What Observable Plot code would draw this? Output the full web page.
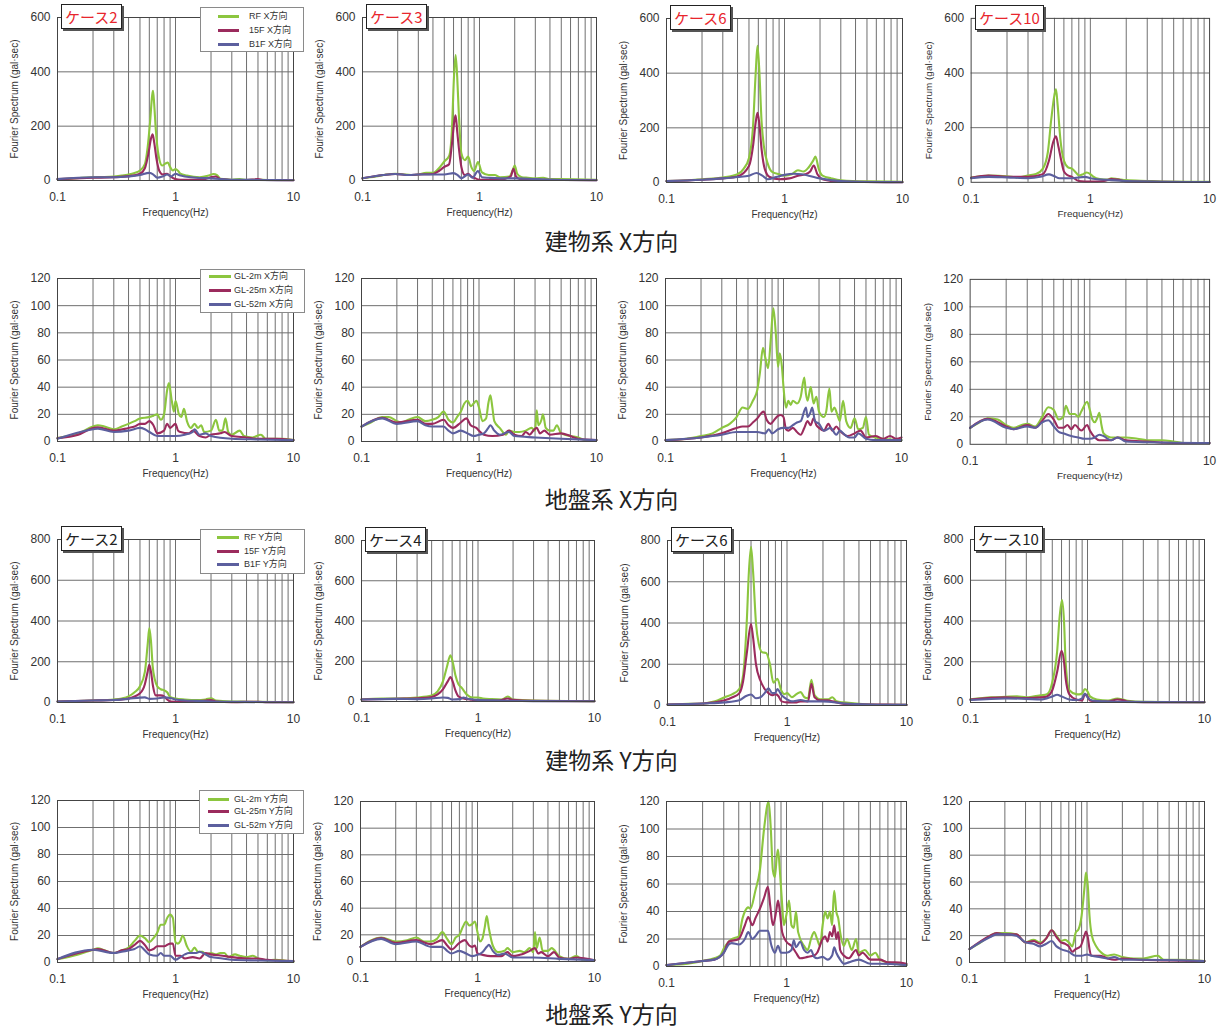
<!DOCTYPE html>
<html><head><meta charset="utf-8">
<script src="https://cdn.jsdelivr.net/npm/d3@7"></script>
<script src="https://cdn.jsdelivr.net/npm/@observablehq/plot@0.6"></script>
<style>
body{margin:0;background:#fff;}
#root{position:relative;width:1223px;height:1032px;overflow:hidden;font-family:"Liberation Sans",Arial,"Noto Sans CJK JP",sans-serif;}
.panel{position:absolute;}
.panel svg{overflow:visible;display:block;}
.case{position:absolute;background:#fff;border:1.5px solid #222;box-shadow:2px 2px 0 #555;font-size:15px;line-height:23px;height:23px;padding:0 3px;font-family:"Noto Sans CJK JP","Liberation Sans",sans-serif;white-space:nowrap;}
.legend{position:absolute;background:#fff;border:1px solid #8a8a8a;font-size:9px;color:#333;font-family:"Liberation Sans","Noto Sans CJK JP",sans-serif;}
.legend .sw{position:absolute;height:2.5px;}
.legend .lt{position:absolute;line-height:11px;white-space:nowrap;}
.title{position:absolute;left:0;width:1223px;text-align:center;font-size:23px;font-family:"Noto Sans CJK JP",sans-serif;color:#222;line-height:24px;height:24px;}
</style>
</head><body><div id="root"></div>
<script>
// ---------- tick / label arrays ----------
const X_TICKS = [0.1, 1, 10];
const MINOR_GRID = [0.2,0.3,0.4,0.5,0.6,0.7,0.8,0.9,1,2,3,4,5,6,7,8,9];
const Y600 = [0,200,400,600];
const Y800 = [0,200,400,600,800];
const Y120 = [0,20,40,60,80,100,120];
const SECTION_TITLES = ["建物系 X方向","地盤系 X方向","建物系 Y方向","地盤系 Y方向"];
const LEG_BX = ["RF X方向","15F X方向","B1F X方向"];
const LEG_GX = ["GL-2m X方向","GL-25m X方向","GL-52m X方向"];
const LEG_BY = ["RF Y方向","15F Y方向","B1F Y方向"];
const LEG_GY = ["GL-2m Y方向","GL-25m Y方向","GL-52m Y方向"];
const CASES_X = ["ケース2","ケース3","ケース6","ケース10"];
const CASES_Y = ["ケース2","ケース4","ケース6","ケース10"];
const COLORS = ["#8cc63f","#9b2b5d","#5c5f9e"];

// ---------- series: [frequency Hz, spectrum gal·sec] ----------
// 建物系 X方向
const BX2_RF=[[0.1,5],[0.13,7],[0.16,10],[0.2,12],[0.25,13],[0.3,15],[0.35,18],[0.4,22],[0.45,28],[0.5,37],[0.55,60],[0.58,120],[0.61,220],[0.635,315],[0.645,330],[0.66,280],[0.68,190],[0.72,90],[0.77,55],[0.82,62],[0.86,66],[0.9,50],[0.95,37],[1.0,42],[1.05,36],[1.1,25],[1.25,18],[1.6,12],[1.9,18],[2.1,24],[2.25,20],[2.4,6],[3,3],[3.5,5],[4,2],[5,3],[6,2],[10,2]];
const BX2_15F=[[0.1,5],[0.2,10],[0.3,12],[0.4,16],[0.5,25],[0.55,45],[0.59,100],[0.62,155],[0.64,170],[0.66,140],[0.69,80],[0.73,35],[0.78,22],[0.85,25],[0.9,16],[1.0,5],[1.1,3],[1.5,3],[1.8,6],[2.0,12],[2.2,15],[2.4,5],[3,2],[4,2],[5,5],[5.5,2],[10,1]];
const BX2_B1F=[[0.1,5],[0.2,12],[0.3,12],[0.4,15],[0.5,20],[0.6,28],[0.65,22],[0.7,10],[0.78,15],[0.85,22],[0.92,15],[1.0,25],[1.1,18],[1.2,15],[1.5,10],[2,8],[3,3],[5,2],[10,1]];
const BX3_RF=[[0.1,8],[0.13,15],[0.16,22],[0.19,25],[0.22,23],[0.26,20],[0.3,22],[0.35,28],[0.4,28],[0.45,45],[0.5,70],[0.55,90],[0.58,180],[0.605,380],[0.625,462],[0.645,380],[0.665,250],[0.7,100],[0.75,75],[0.8,88],[0.85,50],[0.9,35],[0.97,68],[1.05,30],[1.2,20],[1.35,20],[1.5,12],[1.8,15],[1.93,40],[2.0,55],[2.1,25],[2.3,12],[2.6,10],[3,8],[3.5,10],[4,5],[5,5],[10,3]];
const BX3_15F=[[0.1,8],[0.15,20],[0.19,24],[0.25,20],[0.3,22],[0.4,24],[0.45,35],[0.5,50],[0.55,60],[0.58,130],[0.61,220],[0.625,240],[0.645,180],[0.67,110],[0.7,50],[0.75,20],[0.8,25],[0.85,15],[0.9,10],[1.0,3],[1.5,3],[1.85,15],[1.95,43],[2.05,15],[2.2,6],[3,3],[10,1]];
const BX3_B1F=[[0.1,8],[0.15,20],[0.19,24],[0.25,20],[0.3,22],[0.4,22],[0.5,22],[0.6,27],[0.65,20],[0.7,8],[0.8,22],[0.87,10],[0.97,35],[1.05,12],[1.2,10],[1.5,8],[2,8],[3,5],[5,2],[10,1]];
const BX6_RF=[[0.1,5],[0.15,8],[0.2,12],[0.3,18],[0.4,30],[0.45,50],[0.5,90],[0.54,200],[0.57,400],[0.59,500],[0.61,420],[0.64,220],[0.67,130],[0.72,70],[0.78,40],[0.9,30],[1.0,25],[1.15,30],[1.3,45],[1.45,40],[1.6,55],[1.75,80],[1.83,95],[1.95,50],[2.1,25],[2.5,15],[3,8],[5,4],[10,3]];
const BX6_15F=[[0.1,5],[0.2,10],[0.3,15],[0.4,22],[0.5,60],[0.54,130],[0.57,220],[0.59,255],[0.61,220],[0.64,120],[0.68,50],[0.75,20],[0.9,12],[1.1,15],[1.3,25],[1.5,30],[1.65,40],[1.77,62],[1.9,30],[2.1,12],[2.5,6],[3,3],[10,1]];
const BX6_B1F=[[0.1,5],[0.2,10],[0.3,15],[0.4,20],[0.5,25],[0.58,35],[0.65,25],[0.72,12],[0.85,20],[1.0,28],[1.2,32],[1.4,30],[1.6,25],[2.0,15],[3,5],[5,2],[10,1]];
const BX10_RF=[[0.1,17],[0.12,22],[0.14,25],[0.17,24],[0.2,22],[0.25,18],[0.3,25],[0.35,30],[0.4,50],[0.44,110],[0.47,230],[0.5,320],[0.515,340],[0.53,290],[0.56,160],[0.6,80],[0.65,55],[0.7,50],[0.75,38],[0.8,25],[0.87,30],[0.93,36],[1.0,30],[1.05,22],[1.2,12],[1.4,10],[1.5,15],[1.7,12],[2,8],[3,5],[4,3],[10,2]];
const BX10_15F=[[0.1,17],[0.14,25],[0.2,20],[0.3,20],[0.4,30],[0.45,80],[0.49,150],[0.515,168],[0.54,130],[0.57,80],[0.6,40],[0.65,25],[0.7,20],[0.8,5],[1.0,3],[1.3,5],[1.5,12],[1.7,10],[2,3],[10,1]];
const BX10_B1F=[[0.1,15],[0.14,20],[0.2,18],[0.3,15],[0.38,20],[0.45,29],[0.5,22],[0.55,15],[0.7,15],[0.9,20],[1.0,15],[1.5,8],[2,5],[10,1]];
// 地盤系 X方向
const GX2_2=[[0.1,2.5],[0.15,6],[0.2,11],[0.22,12],[0.25,11],[0.3,9],[0.35,11],[0.4,13],[0.45,15],[0.5,17],[0.6,18],[0.65,19],[0.7,20],[0.75,16],[0.8,20],[0.85,38],[0.88,43],[0.93,30],[0.97,22],[1.0,30],[1.07,20],[1.12,18],[1.18,24],[1.25,15],[1.35,10],[1.45,13],[1.55,10],[1.65,12],[1.75,7],[2.0,8],[2.2,16],[2.35,8],[2.5,8],[2.65,17],[2.8,7],[3.0,5],[3.5,8],[3.8,4],[4.5,3],[5.3,5],[5.8,2],[7,2],[8,2],[10,1]];
const GX2_25=[[0.1,2.5],[0.15,5],[0.2,10],[0.22,10.5],[0.3,8],[0.4,10],[0.45,11],[0.5,13],[0.55,13],[0.6,15],[0.65,12],[0.7,6],[0.8,8],[0.85,13],[0.9,10],[1.0,13],[1.05,8],[1.1,7],[1.3,6],[1.4,8],[1.6,4],[1.8,3],[2.0,5],[2.4,6],[2.6,7],[3,4],[4,3],[5,2],[7,2],[10,1]];
const GX2_52=[[0.1,2],[0.2,9],[0.22,9.5],[0.3,7],[0.4,8],[0.5,10],[0.55,9],[0.6,7],[0.7,4],[0.8,4],[1.0,4],[1.2,5],[1.4,7],[1.45,9],[1.6,5],[1.8,6],[2.0,4],[3,2],[5,1.5],[10,1]];
const GX3_2=[[0.1,11],[0.12,14],[0.15,18],[0.17,18],[0.2,15],[0.22,14],[0.25,16],[0.3,18],[0.35,15],[0.4,16],[0.45,18],[0.5,22],[0.55,16],[0.6,14],[0.65,18],[0.7,22],[0.75,28],[0.8,30],[0.85,26],[0.9,28],[0.95,30],[1.0,25],[1.07,15],[1.15,17],[1.2,28],[1.25,34],[1.3,25],[1.35,15],[1.5,10],[1.7,5],[1.8,8],[2.0,7],[2.2,7],[2.5,8],[2.8,10],[3.0,8],[3.1,23],[3.2,12],[3.4,16],[3.5,20],[3.7,10],[4,8],[4.3,8],[4.6,12],[5,6],[6,4],[7,3],[8,1],[10,1]];
const GX3_25=[[0.1,11],[0.15,17.5],[0.2,14],[0.3,16],[0.35,13],[0.4,13],[0.5,16],[0.55,12],[0.6,10],[0.7,14],[0.78,17],[0.85,12],[0.95,10],[1.0,8],[1.1,5],[1.3,4],[1.6,5],[1.8,8],[2.0,5],[2.3,4],[2.5,7],[2.7,5],[2.9,8],[3.1,10],[3.3,6],[3.6,8],[4,5],[5,6],[6,4],[7,2],[10,1]];
const GX3_52=[[0.1,11],[0.15,17],[0.2,13],[0.3,15],[0.35,12],[0.4,11],[0.5,11],[0.55,8],[0.6,6],[0.7,8],[0.8,6],[0.9,4],[1.0,5],[1.1,6],[1.2,10],[1.25,12],[1.35,8],[1.5,5],[1.8,7],[2.0,4],[3,3],[5,2],[10,1]];
const GX6_2=[[0.1,1],[0.15,2],[0.2,4],[0.25,6],[0.3,10],[0.35,13],[0.4,18],[0.45,25],[0.5,24],[0.55,30],[0.6,38],[0.63,50],[0.67,69],[0.7,62],[0.74,54],[0.78,75],[0.82,98],[0.86,80],[0.9,55],[0.93,65],[0.97,55],[1.0,40],[1.05,25],[1.1,30],[1.15,27],[1.2,30],[1.3,28],[1.4,33],[1.5,47],[1.55,35],[1.6,30],[1.7,40],[1.8,28],[1.9,33],[2.0,22],[2.2,18],[2.3,22],[2.45,39],[2.55,22],[2.7,25],[2.9,18],[3.0,15],[3.2,30],[3.4,15],[3.7,10],[4.0,17],[4.3,9],[4.7,10],[5.0,18],[5.3,5],[6,3],[7,2],[10,1]];
const GX6_25=[[0.1,1],[0.2,3],[0.3,6],[0.4,10],[0.45,11],[0.5,11],[0.55,14],[0.6,17],[0.65,21],[0.68,22],[0.72,16],[0.78,13],[0.82,15],[0.9,19],[0.95,19.5],[1.0,18],[1.05,9],[1.1,8],[1.2,10],[1.3,7],[1.4,5],[1.5,10],[1.6,15],[1.7,12],[1.8,17],[1.9,12],[2.0,10],[2.2,8],[2.4,13],[2.6,8],[2.8,11],[3,8],[3.5,4],[4,6],[4.5,8],[5,3],[6,4],[7,2],[8,4],[9,2],[10,3]];
const GX6_52=[[0.1,1],[0.2,3],[0.3,5],[0.4,7],[0.5,7],[0.6,7],[0.7,6],[0.75,9],[0.8,6],[0.9,9],[1.0,10],[1.1,10],[1.2,12],[1.3,14],[1.4,15],[1.55,25],[1.6,18],[1.7,22],[1.75,25],[1.85,15],[2.0,13],[2.2,8],[2.5,10],[2.8,5],[3.0,8],[3.3,5],[3.6,3],[4,3],[4.3,6],[5,2],[6,1],[10,1]];
const GX10_2=[[0.1,12],[0.12,16],[0.14,19],[0.17,18],[0.2,14],[0.23,12],[0.27,14],[0.3,15],[0.35,13],[0.4,20],[0.45,27],[0.5,25],[0.55,18],[0.6,20],[0.63,28],[0.68,22],[0.75,22],[0.8,20],[0.85,24],[0.95,31],[1.0,25],[1.05,18],[1.1,16],[1.15,19],[1.2,23],[1.25,14],[1.3,8],[1.5,5],[1.7,5],[2,5],[2.5,4],[3,3],[4,3],[5,2],[6,1],[10,1]];
const GX10_25=[[0.1,12],[0.14,18.5],[0.2,13],[0.23,11],[0.3,14],[0.35,12],[0.4,17],[0.45,22],[0.5,18],[0.55,12],[0.6,12],[0.65,14],[0.7,11],[0.75,14],[0.85,10],[0.95,14],[1.0,10],[1.1,5],[1.2,3],[1.5,3],[1.7,5],[2,3],[3,2],[5,1],[10,1]];
const GX10_52=[[0.1,12],[0.14,18],[0.2,12],[0.23,11],[0.3,13],[0.35,12],[0.4,16],[0.45,17.5],[0.5,13],[0.55,9],[0.6,8],[0.7,6],[0.8,5],[0.9,4],[1.0,4],[1.1,5],[1.2,7],[1.3,6],[1.5,3],[1.7,5],[2,2],[3,1.5],[10,1]];
// 建物系 Y方向
const BY2_RF=[[0.1,5],[0.2,10],[0.3,15],[0.35,20],[0.4,30],[0.45,50],[0.5,80],[0.55,150],[0.58,280],[0.6,365],[0.62,300],[0.64,180],[0.67,110],[0.7,80],[0.75,65],[0.8,60],[0.85,50],[0.9,28],[1.0,20],[1.2,15],[1.5,12],[1.8,15],[2.0,21],[2.2,10],[3,5],[4,4],[5,3],[10,2]];
const BY2_15F=[[0.1,5],[0.2,10],[0.3,12],[0.4,20],[0.5,45],[0.55,90],[0.58,150],[0.6,185],[0.62,150],[0.645,80],[0.68,35],[0.75,35],[0.8,30],[0.85,15],[0.9,5],[1.2,3],[1.8,10],[2.0,12],[2.2,5],[3,2],[5,4],[6,1],[10,1]];
const BY2_B1F=[[0.1,5],[0.2,10],[0.3,12],[0.4,18],[0.5,24],[0.55,25],[0.6,18],[0.7,20],[0.8,25],[0.9,22],[1.0,15],[1.2,10],[1.5,8],[2,5],[3,3],[10,1]];
const BY4_RF=[[0.1,10],[0.15,15],[0.2,15],[0.3,20],[0.4,30],[0.45,50],[0.5,100],[0.54,170],[0.58,230],[0.61,190],[0.64,130],[0.68,85],[0.72,70],[0.8,35],[0.9,20],[1.0,20],[1.1,15],[1.3,12],[1.6,10],[1.8,25],[2,10],[3,5],[10,2]];
const BY4_15F=[[0.1,10],[0.2,14],[0.3,16],[0.4,22],[0.45,35],[0.5,60],[0.55,100],[0.58,121],[0.61,95],[0.64,55],[0.68,25],[0.75,15],[0.85,10],[1.0,5],[1.5,5],[1.8,15],[2.0,8],[3,3],[10,1]];
const BY4_B1F=[[0.1,10],[0.2,13],[0.3,12],[0.4,15],[0.5,20],[0.55,18],[0.6,10],[0.7,12],[0.75,20],[0.8,15],[1.0,8],[1.5,5],[3,2],[10,1]];
const BY6_RF=[[0.1,5],[0.15,8],[0.2,10],[0.25,20],[0.3,40],[0.35,55],[0.4,81],[0.43,150],[0.46,400],[0.48,650],[0.5,770],[0.52,650],[0.55,400],[0.58,300],[0.62,258],[0.67,255],[0.72,200],[0.77,110],[0.83,130],[0.9,70],[0.95,55],[1.0,60],[1.1,40],[1.2,55],[1.3,65],[1.4,40],[1.5,35],[1.6,125],[1.7,50],[1.9,30],[2.2,30],[2.4,40],[2.6,20],[3.0,15],[4,8],[5,5],[10,3]];
const BY6_15F=[[0.1,5],[0.2,10],[0.3,25],[0.35,40],[0.4,60],[0.43,120],[0.46,250],[0.5,395],[0.52,330],[0.55,200],[0.6,120],[0.65,80],[0.7,60],[0.75,50],[0.8,55],[0.85,45],[0.9,20],[1.0,15],[1.2,15],[1.3,20],[1.5,20],[1.6,105],[1.7,40],[1.9,25],[2.2,25],[2.4,20],[3,8],[5,5],[7,5],[10,3]];
const BY6_B1F=[[0.1,5],[0.2,10],[0.3,15],[0.4,25],[0.45,45],[0.5,53],[0.55,35],[0.6,40],[0.65,60],[0.7,84],[0.75,60],[0.8,60],[0.83,80],[0.9,50],[1.0,30],[1.1,20],[1.3,27],[1.5,20],[2,20],[3,10],[5,5],[10,3]];
const BY10_RF=[[0.1,16],[0.15,25],[0.2,28],[0.25,30],[0.3,25],[0.35,30],[0.4,35],[0.45,40],[0.5,100],[0.55,250],[0.58,430],[0.605,503],[0.63,400],[0.65,200],[0.7,60],[0.8,41],[0.85,40],[0.9,45],[0.95,66],[1.0,55],[1.05,30],[1.2,15],[1.5,10],[1.8,20],[2,15],[2.2,8],[3,3],[10,2]];
const BY10_15F=[[0.1,15],[0.2,25],[0.3,22],[0.4,25],[0.45,30],[0.5,60],[0.55,150],[0.6,254],[0.63,200],[0.65,120],[0.7,40],[0.8,15],[0.9,10],[0.95,40],[1.0,30],[1.05,10],[1.2,5],[1.5,5],[1.8,15],[2.0,12],[2.2,5],[3,2],[10,1]];
const BY10_B1F=[[0.1,12],[0.2,20],[0.3,18],[0.4,15],[0.5,30],[0.55,38],[0.6,30],[0.7,15],[0.8,12],[0.9,20],[0.95,44],[1.0,25],[1.1,10],[1.5,5],[2,3],[10,1]];
// 地盤系 Y方向
const GY2_2=[[0.1,2.5],[0.15,6],[0.2,9.5],[0.22,10.5],[0.25,9],[0.3,7],[0.35,9],[0.4,11],[0.45,16],[0.5,20],[0.55,18],[0.6,15],[0.65,18],[0.7,22],[0.75,28],[0.8,28],[0.85,33],[0.9,35.5],[0.95,33],[1.0,15],[1.05,14],[1.1,16],[1.15,20],[1.25,12],[1.35,8],[1.45,11],[1.55,8],[1.7,8],[1.8,6],[2.0,7],[2.2,6],[2.4,7],[2.6,7],[2.8,4],[3.2,6],[3.5,5],[4,4],[4.5,5],[5,3],[6,1.5],[7,2],[10,0.5]];
const GY2_25=[[0.1,2.5],[0.2,9.5],[0.22,10],[0.3,7],[0.35,9],[0.4,10],[0.45,13],[0.5,16],[0.55,13],[0.6,9],[0.65,10],[0.7,12],[0.8,12],[0.9,14],[0.95,14],[1.0,5],[1.1,5],[1.2,3],[1.4,4],[1.6,3],[1.8,7],[2,6],[2.5,5],[3,4],[4,3],[5,3],[6,2],[10,1]];
const GY2_52=[[0.1,2.5],[0.2,9.5],[0.3,7],[0.35,8],[0.4,9],[0.45,10],[0.5,12],[0.55,9],[0.6,6],[0.7,5],[0.75,7],[0.8,5],[0.9,5],[1.0,2],[1.1,4],[1.2,6],[1.3,7],[1.5,7],[1.6,8],[1.8,6],[2.0,4],[2.5,3],[3,2],[5,1.5],[10,1]];
const GY4_2=[[0.1,11],[0.15,18],[0.2,15],[0.25,16],[0.3,18],[0.35,15],[0.4,15],[0.45,17],[0.5,22],[0.55,17],[0.6,13],[0.65,18],[0.7,20],[0.75,26],[0.8,30],[0.85,27],[0.9,28],[0.95,30],[1.0,22],[1.05,15],[1.1,17],[1.15,25],[1.2,34],[1.25,25],[1.35,12],[1.5,7],[1.7,8],[1.8,10],[2,7],[2.3,8],[2.5,7],[2.8,10],[3.0,7],[3.1,22],[3.2,10],[3.4,18],[3.6,8],[4,8],[4.3,10],[5,4],[6,2],[7,4],[8,1],[10,1]];
const GY4_25=[[0.1,11],[0.15,17.5],[0.2,14],[0.3,16],[0.4,13],[0.5,16],[0.55,12],[0.6,9],[0.7,14],[0.78,16],[0.85,12],[0.9,11],[0.95,12],[1.0,6],[1.1,5],[1.3,4],[1.6,4],[1.8,7],[2,4],[2.3,5],[2.5,6],[2.8,8],[3.1,10],[3.3,6],[3.5,7],[4,4],[4.5,7],[5,3],[6,2],[7,3],[10,1]];
const GY4_52=[[0.1,11],[0.15,17],[0.2,13],[0.3,15],[0.4,11],[0.5,11],[0.55,8],[0.6,6],[0.7,8],[0.8,6],[0.9,4],[1.0,5],[1.1,7],[1.2,11],[1.25,12.5],[1.35,8],[1.5,5],[1.7,6],[2,3],[3,3],[5,2],[10,1]];
const GY6_2=[[0.1,1],[0.15,2],[0.2,4],[0.25,6],[0.28,8],[0.3,13],[0.33,18],[0.35,20],[0.4,22],[0.43,35],[0.45,40],[0.48,43],[0.5,42],[0.55,55],[0.6,70],[0.65,100],[0.71,120],[0.74,100],[0.77,70],[0.8,65],[0.83,80],[0.85,85],[0.88,70],[0.92,45],[0.95,30],[1.0,38],[1.05,48],[1.1,30],[1.15,28],[1.2,40],[1.25,25],[1.4,15],[1.5,12],[1.6,20],[1.7,25],[1.8,20],[1.9,15],[2.0,30],[2.1,40],[2.2,35],[2.3,40],[2.4,30],[2.45,45],[2.5,55],[2.6,40],[2.7,35],[2.8,25],[3.0,15],[3.2,20],[3.5,12],[3.8,20],[4.0,10],[4.5,12],[5,8],[5.5,10],[6,5],[7,3],[8,2],[10,1]];
const GY6_25=[[0.1,1],[0.2,4],[0.25,5],[0.3,10],[0.33,18],[0.4,20],[0.45,30],[0.48,36],[0.52,30],[0.55,35],[0.6,42],[0.65,50],[0.7,58],[0.73,45],[0.77,30],[0.82,40],[0.85,48],[0.88,40],[0.92,25],[1.0,18],[1.1,15],[1.2,10],[1.3,6],[1.5,7],[1.7,8],[1.8,10],[2.0,20],[2.1,22],[2.2,18],[2.3,25],[2.4,22],[2.5,30],[2.6,20],[2.7,25],[2.8,12],[3.0,8],[3.3,6],[3.8,12],[4.0,8],[4.3,10],[5,5],[6,5],[7,3],[8,3],[10,2]];
const GY6_52=[[0.1,1],[0.2,4],[0.25,5],[0.3,10],[0.33,16],[0.35,17],[0.4,16],[0.45,20],[0.48,25],[0.52,20],[0.55,22],[0.6,26],[0.65,26],[0.7,26],[0.75,15],[0.8,10],[0.85,15],[0.9,10],[1.0,10],[1.1,12],[1.15,19],[1.2,14],[1.3,18],[1.4,12],[1.5,10],[1.6,12],[1.7,7],[1.8,6],[2.0,7],[2.2,5],[2.4,8],[2.5,14],[2.6,10],[2.8,5],[3.0,2],[3.3,3],[4,5],[5,2],[6,2],[10,1]];
const GY10_2=[[0.1,10],[0.12,14],[0.15,20],[0.17,22],[0.2,22],[0.25,21],[0.3,15],[0.35,17],[0.4,15],[0.45,18],[0.5,24],[0.55,20],[0.6,16],[0.65,17],[0.7,15],[0.75,12],[0.8,22],[0.85,25],[0.9,35],[0.95,55],[0.98,67],[1.02,55],[1.05,35],[1.1,20],[1.2,12],[1.3,8],[1.5,5],[1.7,6],[2,4],[2.5,3],[3,3],[4,5],[4.5,2],[5,2],[6,2],[10,1]];
const GY10_25=[[0.1,10],[0.15,20],[0.17,22],[0.2,21],[0.25,21],[0.3,15],[0.35,16],[0.4,14],[0.45,18],[0.5,24],[0.55,19],[0.6,15],[0.65,14],[0.7,12],[0.75,8],[0.8,10],[0.88,12],[0.95,20],[0.98,23],[1.02,18],[1.05,10],[1.1,5],[1.3,5],[1.5,3],[1.7,2],[2,3],[3,2],[5,1.5],[10,1]];
const GY10_52=[[0.1,10],[0.15,19],[0.17,21],[0.2,21],[0.25,20],[0.3,15],[0.35,14],[0.4,12],[0.45,14],[0.5,16],[0.55,12],[0.6,10],[0.7,8],[0.8,5],[0.9,5],[1.0,6],[1.1,5],[1.3,4],[1.5,3],[1.7,4],[2,2],[3,2],[10,1]];

// ---------- layout (page pixels of each plot frame) ----------
const ROWS = [
  {ymax:600, yTicks:Y600, legend:LEG_BX, cases:CASES_X, caseColor:"#e8262d", title:SECTION_TITLES[0], titleY:228,
   leg:{l:200,t:7,w:102,h:43,s0:17,s1:38,tx:48,rows:[8,22,36]},
   panels:[{x0:57,x1:293,y0:17,y1:180,s:[BX2_RF,BX2_15F,BX2_B1F]},
           {x0:362,x1:596,y0:17,y1:180,s:[BX3_RF,BX3_15F,BX3_B1F]},
           {x0:666,x1:902,y0:18,y1:182,s:[BX6_RF,BX6_15F,BX6_B1F]},
           {x0:971,x1:1211,y0:18,y1:183,s:[BX10_RF,BX10_15F,BX10_B1F]}]},
  {ymax:120, yTicks:Y120, legend:LEG_GX, cases:null, title:SECTION_TITLES[1], titleY:486,
   leg:{l:200,t:269,w:103,h:42,s0:8,s1:30,tx:33,rows:[6,20,34]},
   panels:[{x0:57,x1:293,y0:278,y1:441,s:[GX2_2,GX2_25,GX2_52]},
           {x0:361,x1:596,y0:278,y1:441,s:[GX3_2,GX3_25,GX3_52]},
           {x0:665,x1:901,y0:278,y1:441,s:[GX6_2,GX6_25,GX6_52]},
           {x0:970,x1:1211,y0:279,y1:445,s:[GX10_2,GX10_25,GX10_52]}]},
  {ymax:800, yTicks:Y800, legend:LEG_BY, cases:CASES_Y, caseColor:"#222", title:SECTION_TITLES[2], titleY:747,
   leg:{l:200,t:529,w:103,h:43,s0:16,s1:38,tx:43,rows:[7,21,34]},
   panels:[{x0:57,x1:293,y0:539,y1:702,s:[BY2_RF,BY2_15F,BY2_B1F]},
           {x0:361,x1:594,y0:540,y1:701,s:[BY4_RF,BY4_15F,BY4_B1F]},
           {x0:667,x1:906,y0:540,y1:705,s:[BY6_RF,BY6_15F,BY6_B1F]},
           {x0:970,x1:1204,y0:539,y1:702,s:[BY10_RF,BY10_15F,BY10_B1F]}]},
  {ymax:120, yTicks:Y120, legend:LEG_GY, cases:null, title:SECTION_TITLES[3], titleY:1001,
   leg:{l:199,t:790,w:103,h:42,s0:8,s1:29,tx:34,rows:[8,20,34]},
   panels:[{x0:57,x1:293,y0:800,y1:962,s:[GY2_2,GY2_25,GY2_52]},
           {x0:360,x1:594,y0:801,y1:961,s:[GY4_2,GY4_25,GY4_52]},
           {x0:666,x1:906,y0:801,y1:966,s:[GY6_2,GY6_25,GY6_52]},
           {x0:969,x1:1204,y0:801,y1:962,s:[GY10_2,GY10_25,GY10_52]}]}
];

const root = document.getElementById("root");
const ML=60, MR=14, MT=20, MB=46;

ROWS.forEach(row => {
  row.panels.forEach((p, ci) => {
    const w = p.x1 - p.x0, h = p.y1 - p.y0;
    const marks = [
      Plot.ruleX(MINOR_GRID, {stroke:"#6f6f6f", strokeWidth:1}),
      Plot.ruleY(row.yTicks.slice(1, -1), {stroke:"#6f6f6f", strokeWidth:1}),
      ...p.s.map((ser, i) => Plot.line(ser, {x: d => d[0], y: d => d[1], stroke: COLORS[i], strokeWidth: 2.1, curve: "monotone-x"})),
      Plot.frame({stroke:"#444", strokeWidth:1}),
      Plot.axisX({ticks: X_TICKS, tickFormat: d => String(d), tickSize: 0, tickPadding: 12, label: null, fontSize: 12}),
      Plot.axisY({ticks: row.yTicks, tickSize: 0, tickPadding: 7, label: null, fontSize: 12}),
      Plot.text(["Frequency(Hz)"], {text: d => d, frameAnchor: "bottom", lineAnchor: "middle", textAnchor: "middle", dy: 32, fontSize: 10, fill: "#333"}),
      Plot.text(["Fourier Spectrum (gal·sec)"], {text: d => d, frameAnchor: "left", textAnchor: "middle", lineAnchor: "middle", rotate: -90, dx: -43, fontSize: 10, fill: "#333"})
    ];
    const svg = Plot.plot({
      width: w + ML + MR, height: h + MT + MB,
      marginLeft: ML, marginRight: MR, marginTop: MT, marginBottom: MB,
      x: {type: "log", domain: [0.1, 10]},
      y: {domain: [0, row.ymax]},
      style: {fontFamily: '"Liberation Sans", Arial, sans-serif', color: "#333", background: "transparent", overflow: "visible"},
      marks
    });
    const div = document.createElement("div");
    div.className = "panel";
    div.style.left = (p.x0 - ML) + "px";
    div.style.top = (p.y0 - MT) + "px";
    div.appendChild(svg);
    root.appendChild(div);

    if (row.cases) {
      const c = document.createElement("div");
      c.className = "case";
      c.textContent = row.cases[ci];
      c.style.left = (p.x0 + 4) + "px";
      c.style.top = (p.y0 - 13) + "px";
      c.style.color = row.caseColor;
      root.appendChild(c);
    }
  });

  // legend (first column only)
  const L = row.leg;
  const lg = document.createElement("div");
  lg.className = "legend";
  Object.assign(lg.style, {left: L.l + "px", top: L.t + "px", width: L.w + "px", height: L.h + "px"});
  row.legend.forEach((name, i) => {
    const sw = document.createElement("div");
    sw.className = "sw";
    Object.assign(sw.style, {left: L.s0 + "px", width: (L.s1 - L.s0) + "px", top: (L.rows[i] - 1) + "px", background: COLORS[i]});
    const t = document.createElement("div");
    t.className = "lt";
    t.textContent = name;
    Object.assign(t.style, {left: L.tx + "px", top: (L.rows[i] - 5.5) + "px"});
    lg.appendChild(sw); lg.appendChild(t);
  });
  root.appendChild(lg);

  const tt = document.createElement("div");
  tt.className = "title";
  tt.textContent = row.title;
  tt.style.top = row.titleY + "px";
  root.appendChild(tt);
});
</script>
</body></html>
